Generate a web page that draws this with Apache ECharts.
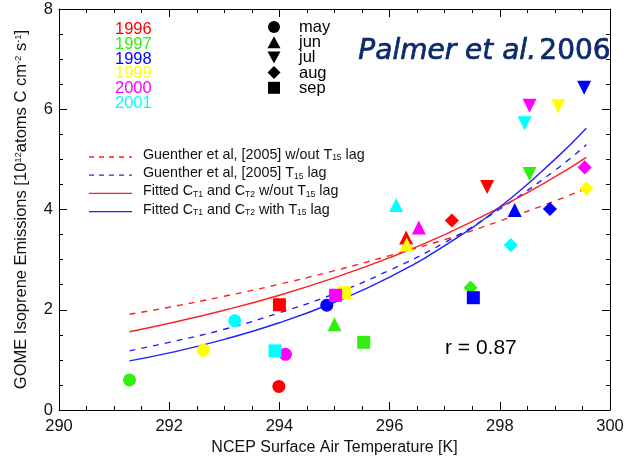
<!DOCTYPE html>
<html><head><meta charset="utf-8">
<script src="https://cdn.jsdelivr.net/npm/echarts@6/dist/echarts.min.js"></script>
<style>html,body{margin:0;padding:0;background:#fff}#c{width:628px;height:461px}</style>
</head><body><div id="c"></div>
<script>
// ---- data ----
const years = ['1996', '1997', '1998', '1999', '2000', '2001'];
const months = ['may', 'jun', 'jul', 'aug', 'sep'];
// temperature [K] and emission per month (may, jun, jul, aug, sep)
const temp1996 = [293.99, 296.30, 297.77, 297.13, 294.00];
const emis1996 = [0.47, 3.44, 4.45, 3.78, 2.10];
const temp1997 = [291.28, 295.00, 298.54, 297.47, 295.53];
const emis1997 = [0.60, 1.71, 4.71, 2.44, 1.35];
const temp1998 = [294.86, 298.27, 299.53, 298.91, 297.52];
const emis1998 = [2.09, 3.99, 6.43, 4.01, 2.24];
const temp1999 = [292.62, 296.31, 299.06, 299.57, 295.18];
const emis1999 = [1.19, 3.30, 6.06, 4.42, 2.34];
const temp2000 = [294.11, 296.53, 298.54, 299.54, 295.02];
const emis2000 = [1.11, 3.64, 6.07, 4.84, 2.29];
const temp2001 = [293.19, 296.12, 298.45, 298.20, 293.92];
const emis2001 = [1.78, 4.09, 5.72, 3.29, 1.18];

const curveTemps = [291.28, 292, 293, 294, 295, 296, 297, 298, 299, 299.57];
const guentherNoLag = [1.91, 2.05, 2.27, 2.51, 2.78, 3.08, 3.40, 3.77, 4.17, 4.42];
const guentherLag = [1.18, 1.35, 1.61, 1.94, 2.32, 2.79, 3.34, 4.01, 4.78, 5.29];
const fittedNoLag = [1.56, 1.73, 1.99, 2.29, 2.64, 3.04, 3.50, 4.04, 4.65, 5.04];
const fittedLag = [0.98, 1.14, 1.41, 1.74, 2.15, 2.65, 3.28, 4.05, 5.00, 5.62];

const xTicks = [290, 292, 294, 296, 298, 300];
const yTicks = [0, 2, 4, 6, 8];
const rValue = 'r = 0.87';

// ---- styles ----
const yearColors = ['#ff0000', '#33ee11', '#0000ff', '#ffff00', '#ff00ff', '#00ffff'];
const monthSymbols = ['circle', 'triangle', 'triangle', 'rect', 'rect'];
const monthRotate = [0, 0, 180, 45, 0];
const monthSize = [13, 14, 14, 10, 13];
const temps = [temp1996, temp1997, temp1998, temp1999, temp2000, temp2001];
const emis = [emis1996, emis1997, emis1998, emis1999, emis2000, emis2001];
const FONT = '"Liberation Sans", Arial, sans-serif';

const lineSeries = [
  {name: 'g0', data: guentherNoLag, color: '#ff2020', type: 'dashed'},
  {name: 'g1', data: guentherLag, color: '#2020ff', type: 'dashed'},
  {name: 'f0', data: fittedNoLag, color: '#ff2020', type: 'solid'},
  {name: 'f1', data: fittedLag, color: '#2020ff', type: 'solid'}
].map(s => ({
  type: 'line', name: s.name, smooth: true, showSymbol: false, symbol: 'none',
  data: curveTemps.map((t, i) => [t, s.data[i]]),
  lineStyle: {color: s.color, width: 1.4, type: s.type === 'dashed' ? [6, 6] : 'solid'},
  z: 2, silent: true
}));

const scatterSeries = years.map((y, yi) => ({
  type: 'scatter', name: y,
  data: months.map((m, mi) => ({
    value: [temps[yi][mi], emis[yi][mi]],
    symbol: monthSymbols[mi], symbolRotate: monthRotate[mi], symbolSize: monthSize[mi]
  })),
  itemStyle: {color: yearColors[yi], opacity: 1},
  z: 3
}));

// legend graphics
const graphics = [];
years.forEach((y, i) => {
  graphics.push({type: 'text', left: 115, top: 21 + i * 14.8,
    style: {text: y, fill: yearColors[i], font: '16.5px ' + FONT}});
});
const symX = 274, symY0 = 27, symDY = 15.2;
graphics.push({type: 'circle', shape: {cx: symX, cy: symY0, r: 6}, style: {fill: '#000'}});
graphics.push({type: 'polygon', shape: {points: [[symX - 6.5, symY0 + symDY + 6], [symX + 6.5, symY0 + symDY + 6], [symX, symY0 + symDY - 6]]}, style: {fill: '#000'}});
graphics.push({type: 'polygon', shape: {points: [[symX - 6.5, symY0 + 2 * symDY - 6], [symX + 6.5, symY0 + 2 * symDY - 6], [symX, symY0 + 2 * symDY + 6]]}, style: {fill: '#000'}});
graphics.push({type: 'polygon', shape: {points: [[symX, symY0 + 3 * symDY - 6.5], [symX + 6.5, symY0 + 3 * symDY], [symX, symY0 + 3 * symDY + 6.5], [symX - 6.5, symY0 + 3 * symDY]]}, style: {fill: '#000'}});
graphics.push({type: 'rect', shape: {x: symX - 6, y: symY0 + 4 * symDY - 6, width: 12, height: 12}, style: {fill: '#000'}});
months.forEach((m, i) => {
  graphics.push({type: 'text', left: 299, top: symY0 - 8 + i * symDY,
    style: {text: m, fill: '#000', font: '16.5px ' + FONT}});
});
graphics.push({type: 'text', left: 358, top: 37,
  style: {text: '{i|Palmer et al.} {n|2006}', fill: '#0d2a6b', stroke: '#0d2a6b', lineWidth: 0.7,
    rich: {i: {fontFamily: '"DejaVu Sans", Verdana, sans-serif', fontStyle: 'italic', fontSize: 28, fill: '#0d2a6b', stroke: '#0d2a6b', lineWidth: 0.7},
           n: {fontFamily: '"DejaVu Sans", Verdana, sans-serif', fontSize: 28, fill: '#0d2a6b', stroke: '#0d2a6b', lineWidth: 0.7}}}});

const lineLegend = [
  {text: 'Guenther et al, [2005] w/out T{s|15} lag', color: '#ff2020', dash: true},
  {text: 'Guenther et al, [2005] T{s|15} lag', color: '#2020ff', dash: true},
  {text: 'Fitted C{s|T1} and C{s|T2} w/out T{s|15} lag', color: '#ff2020', dash: false},
  {text: 'Fitted C{s|T1} and C{s|T2} with T{s|15} lag', color: '#2020ff', dash: false}
];
lineLegend.forEach((l, i) => {
  const y = 157 + i * 18.2;
  graphics.push({type: 'line', shape: {x1: 89, y1: y, x2: 132, y2: y},
    style: {stroke: l.color, lineWidth: 1.3, lineDash: l.dash ? [5, 5] : null}});
  graphics.push({type: 'text', left: 143, top: y - 9,
    style: {text: l.text, fill: '#111',
      rich: {s: {fontSize: 8.5, fontFamily: FONT, fill: '#111', verticalAlign: 'bottom', padding: [6, 0, 0, 0]}},
      fontSize: 14.3, fontFamily: FONT}});
});
graphics.push({type: 'text', left: 445, top: 338, style: {text: rValue, fill: '#000', font: '21px ' + FONT}});

const chart = echarts.init(document.getElementById('c'), null, {renderer: 'canvas'});
const axisCommon = {
  axisLine: {show: true, onZero: false, lineStyle: {color: '#000', width: 1}},
  splitLine: {show: false},
  axisTick: {show: true, inside: true, length: 8, lineStyle: {color: '#000'}},
  minorTick: {show: true, splitNumber: 4, length: 4, lineStyle: {color: '#000'}}
};
chart.setOption({
  animation: false,
  grid: {left: 59, right: 18, top: 9, bottom: 48, containLabel: false},
  xAxis: [
    Object.assign({type: 'value', min: xTicks[0], max: xTicks[xTicks.length - 1], interval: 2, position: 'bottom',
      name: 'NCEP Surface Air Temperature [K]', nameLocation: 'middle', nameGap: 30,
      nameTextStyle: {fontSize: 16, fontFamily: FONT, color: '#111'},
      axisLabel: {fontSize: 16.5, fontFamily: FONT, color: '#111', margin: 8}}, axisCommon),
    Object.assign({type: 'value', min: xTicks[0], max: xTicks[xTicks.length - 1], interval: 2, position: 'top',
      axisLabel: {show: false}}, axisCommon)
  ],
  yAxis: [
    Object.assign({type: 'value', min: yTicks[0], max: yTicks[yTicks.length - 1], interval: 2, position: 'left',
      name: 'GOME Isoprene Emissions [10{sup|12}atoms C cm{sup|-2} s{sup|-1}]', nameLocation: 'middle', nameGap: 29,
      nameTextStyle: {fontSize: 16.5, fontFamily: FONT, color: '#111',
        rich: {sup: {fontSize: 9.5, fontFamily: FONT, color: '#111', verticalAlign: 'top', padding: [0, 0, 6, 0]}}},
      axisLabel: {fontSize: 16.5, fontFamily: FONT, color: '#111', margin: 6}}, axisCommon),
    Object.assign({type: 'value', min: yTicks[0], max: yTicks[yTicks.length - 1], interval: 2, position: 'right',
      axisLabel: {show: false}}, axisCommon)
  ],
  series: lineSeries.concat(scatterSeries),
  graphic: graphics
});
</script></body></html>
